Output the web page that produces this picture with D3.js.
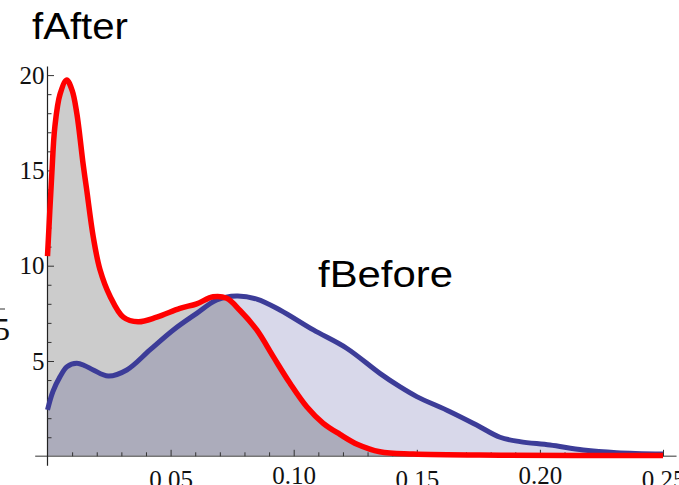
<!DOCTYPE html>
<html>
<head>
<meta charset="utf-8">
<script src="https://cdn.jsdelivr.net/npm/d3@7"></script>
<style>
  html, body { margin: 0; padding: 0; background: #fff; }
  svg { display: block; }
</style>
</head>
<body>
<svg id="chart" width="679" height="485"></svg>
<script>
// Density estimates of f after and before (x: f value, y: density)
const afterX = [0, 0.0017, 0.003, 0.0051, 0.0078, 0.01, 0.0119, 0.0145, 0.0159, 0.0186, 0.0213, 0.0254, 0.0308, 0.0368, 0.0444, 0.0538, 0.0606, 0.0673, 0.0728, 0.0782, 0.085, 0.0917, 0.0985, 0.1053, 0.1120, 0.1188, 0.1260, 0.135, 0.1485, 0.184, 0.25];
const afterY = [10.5, 14.7, 17.3, 19.0, 19.74, 19.2, 18.0, 15.3, 14.0, 11.5, 9.8, 8.4, 7.3, 7.06, 7.3, 7.76, 8.0, 8.37, 8.29, 7.65, 6.63, 5.23, 3.83, 2.6, 1.73, 1.15, 0.62, 0.24, 0.12, 0.06, 0.04];

const beforeX = [0, 0.0022, 0.0051, 0.0079, 0.0119, 0.0152, 0.0186, 0.0247, 0.0322, 0.0416, 0.0511, 0.0606, 0.0687, 0.0768, 0.085, 0.0944, 0.108, 0.1215, 0.135, 0.1431, 0.15, 0.1635, 0.1743, 0.1838, 0.1919, 0.2041, 0.2176, 0.2312, 0.25];
const beforeY = [2.43, 3.4, 4.18, 4.7, 4.88, 4.75, 4.53, 4.21, 4.53, 5.58, 6.63, 7.5, 8.2, 8.41, 8.25, 7.68, 6.63, 5.67, 4.35, 3.65, 3.13, 2.34, 1.64, 1.0, 0.77, 0.59, 0.33, 0.19, 0.12];

const xMajor = [0.05, 0.10, 0.15, 0.20, 0.25];
const xMajorLabels = ["0.05", "0.10", "0.15", "0.20", "0.25"];
const yMajor = [5, 10, 15, 20];
const yMajorLabels = ["5", "10", "15", "20"];

const svg = d3.select("#chart");

const x = d3.scaleLinear().domain([0, 0.25]).range([47.5, 663]);
const y = d3.scaleLinear().domain([0, 20]).range([456.3, 75.1]);

const after = afterX.map((d, i) => [d, afterY[i]]);
const before = beforeX.map((d, i) => [d, beforeY[i]]);

const curve = d3.curveCatmullRom.alpha(0.5);
const area = d3.area().x(d => x(d[0])).y0(y(0)).y1(d => y(d[1])).curve(curve);
const line = d3.line().x(d => x(d[0])).y(d => y(d[1])).curve(curve);

const blue = "#3c3c98";
const red = "#ff0000";

// Filled areas down to the axis
svg.append("path").attr("d", area(before)).attr("fill", blue).attr("fill-opacity", 0.2);
svg.append("path").attr("d", area(after)).attr("fill", "#000").attr("fill-opacity", 0.2);

// Axes lines
svg.append("line")
  .attr("x1", x(-0.005)).attr("x2", x(0.2555))
  .attr("y1", y(0)).attr("y2", y(0))
  .attr("stroke", "#777").attr("stroke-width", 1.5);
svg.append("line")
  .attr("x1", x(0)).attr("x2", x(0))
  .attr("y1", y(-0.5)).attr("y2", y(20.45))
  .attr("stroke", "#222").attr("stroke-width", 1.2);

// Minor + major ticks (pointing into the plot)
const xMinor = d3.range(1, 26).map(i => i / 100).filter(v => !xMajor.some(m => Math.abs(m - v) < 1e-9));
const yMinor = d3.range(1, 21).filter(v => !yMajor.includes(v));

const gx = svg.append("g").attr("transform", `translate(0,${y(0)})`);
gx.call(d3.axisBottom(x).tickValues(xMinor).tickSize(-4).tickSizeOuter(0).tickFormat(""));
gx.call(g => g.select(".domain").remove());
gx.selectAll("line").attr("stroke", "#333");
const gx2 = svg.append("g").attr("transform", `translate(0,${y(0)})`);
gx2.call(d3.axisBottom(x).tickValues(xMajor).tickSize(-6.5).tickSizeOuter(0)
  .tickPadding(14).tickFormat((d, i) => xMajorLabels[i]));
gx2.call(g => g.select(".domain").remove());
gx2.selectAll("line").attr("stroke", "#333");
gx2.selectAll("text")
  .attr("font-family", "'Liberation Serif', 'Times New Roman', serif")
  .attr("font-size", 25).attr("fill", "#111")
  .attr("dy", (d, i) => i % 2 === 0 ? "0.71em" : "0.53em");

const gy = svg.append("g").attr("transform", `translate(${x(0)},0)`);
gy.call(d3.axisLeft(y).tickValues(yMinor).tickSize(-4).tickSizeOuter(0).tickFormat(""));
gy.call(g => g.select(".domain").remove());
gy.selectAll("line").attr("stroke", "#333");
const gy2 = svg.append("g").attr("transform", `translate(${x(0)},0)`);
gy2.call(d3.axisLeft(y).tickValues(yMajor).tickSize(-6.5).tickSizeOuter(0)
  .tickPadding(3).tickFormat((d, i) => yMajorLabels[i]));
gy2.call(g => g.select(".domain").remove());
gy2.selectAll("line").attr("stroke", "#333");
gy2.selectAll("text")
  .attr("font-family", "'Liberation Serif', 'Times New Roman', serif")
  .attr("font-size", 25).attr("fill", "#111");

// Curves
svg.append("path").attr("d", line(before)).attr("fill", "none")
  .attr("stroke", blue).attr("stroke-width", 5).attr("stroke-linejoin", "round");
svg.append("path").attr("d", line(after)).attr("fill", "none")
  .attr("stroke", red).attr("stroke-width", 5.5).attr("stroke-linejoin", "round");

// Curve labels
svg.append("text").attr("x", 32).attr("y", 39)
  .attr("font-family", "'Liberation Sans', Arial, sans-serif").attr("font-size", 36)
  .attr("textLength", 96).attr("lengthAdjust", "spacingAndGlyphs")
  .text("fAfter");
svg.append("text").attr("x", 318).attr("y", 287)
  .attr("font-family", "'Liberation Sans', Arial, sans-serif").attr("font-size", 36)
  .attr("textLength", 135).attr("lengthAdjust", "spacingAndGlyphs")
  .text("fBefore");

// Edge of a neighbouring panel on the left
svg.append("line").attr("x1", 0).attr("x2", 5).attr("y1", 309).attr("y2", 309)
  .attr("stroke", "#333").attr("stroke-width", 1);
svg.append("text").attr("x", 10).attr("y", 340).attr("text-anchor", "end")
  .attr("font-family", "'Liberation Serif', 'Times New Roman', serif")
  .attr("font-size", 32).attr("fill", "#111").text("5");
</script>
</body>
</html>
